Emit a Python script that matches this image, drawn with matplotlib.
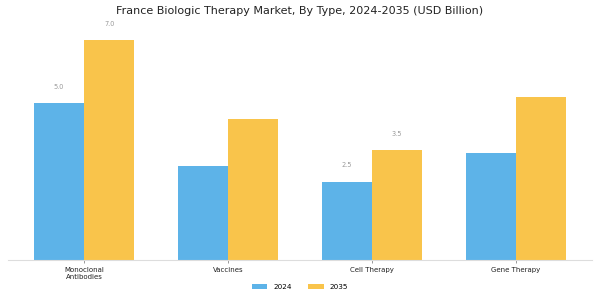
import matplotlib
matplotlib.use("Agg")
import matplotlib.pyplot as plt
import numpy as np

categories = ["Monoclonal\nAntibodies", "Vaccines", "Cell Therapy", "Gene Therapy"]
years = ["2024", "2035"]
values_2024 = [5.0, 3.0, 2.5, 3.4]
values_2035 = [7.0, 4.5, 3.5, 5.2]
# only some bars carry value labels in the reference
labels_2024 = ["5.0", None, "2.5", None]
labels_2035 = ["7.0", None, "3.5", None]

BLUE = "#5DB3E8"
YELLOW = "#F9C44B"

fig = plt.figure(figsize=(6, 3), dpi=100)
ax = fig.add_axes([0.013, 0.133, 0.974, 0.80])

x = np.arange(len(categories))
width = 0.35
b1 = ax.bar(x - width / 2, values_2024, width, color=BLUE, label=years[0])
b2 = ax.bar(x + width / 2, values_2035, width, color=YELLOW, label=years[1])

for bars, labs in [(b1, labels_2024), (b2, labels_2035)]:
    for bar, lab in zip(bars, labs):
        if lab is None:
            continue
        ax.text(bar.get_x() + bar.get_width() / 2, bar.get_height() + 0.42, lab,
                ha="center", va="bottom", fontsize=4.7, color="#999999")

ax.set_xlim(-0.53, 3.53)
ax.set_ylim(0, 7.65)
ax.set_xticks(x)
ax.set_xticklabels(categories, fontsize=5, color="#222222")
ax.tick_params(axis="x", length=2, width=0.6, color="#888888", pad=3)
ax.set_yticks([])
for s in ["top", "right", "left"]:
    ax.spines[s].set_visible(False)
ax.spines["bottom"].set_color("#dddddd")
ax.spines["bottom"].set_linewidth(0.8)

fig.suptitle("France Biologic Therapy Market, By Type, 2024-2035 (USD Billion)",
             fontsize=8, y=0.98, color="#222222")
fig.legend(loc="center", ncol=2, frameon=False, fontsize=5.2,
           bbox_to_anchor=(0.5, 13 / 300), handlelength=2.2, handleheight=0.6,
           handletextpad=0.8, columnspacing=2.3)

fig.savefig("out.png", dpi=100)
